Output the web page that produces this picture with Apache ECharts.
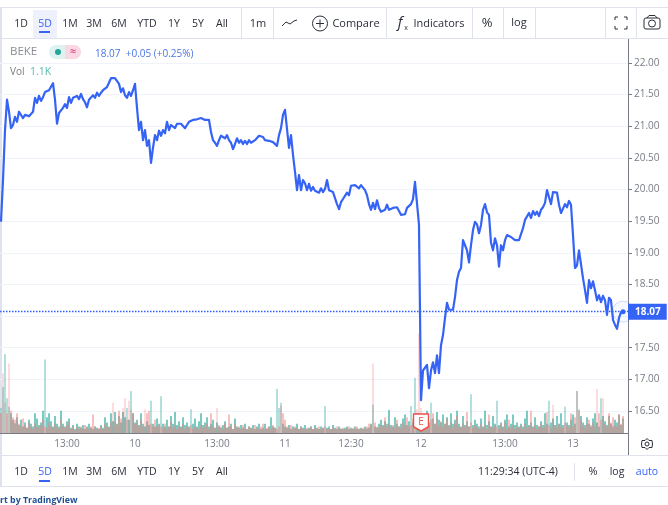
<!DOCTYPE html>
<html>
<head>
<meta charset="utf-8">
<title>BEKE</title>
<style>
html, body { margin: 0; padding: 0; background: #fff; }
#chart { width: 668px; height: 505px; }
</style>
<script src="https://cdn.jsdelivr.net/npm/echarts@6/dist/echarts.min.js"></script>
</head>
<body>
<div id="chart"></div>
<script>
// one price per 2 px column, 5D view
var prices = [
19.49,20.15,20.94,21.42,21.23,20.97,21.02,21.15,21.07,21.23,21.21,21.13,21.18,21.15,21.16,21.16,21.23,21.45,21.37,21.48,
21.40,21.46,21.54,21.51,21.57,21.54,21.68,21.42,21.04,21.21,21.23,21.29,21.35,21.29,21.46,21.37,21.45,21.43,21.48,21.43,
21.51,21.43,21.38,21.30,21.42,21.43,21.49,21.45,21.53,21.48,21.53,21.57,21.59,21.62,21.65,21.76,21.76,21.76,21.75,21.67,
21.54,21.60,21.49,21.45,21.54,21.48,21.57,21.67,21.29,20.94,21.07,20.78,20.94,20.69,20.78,20.42,20.66,20.86,20.78,20.93,
20.85,20.94,20.89,21.07,20.94,21.02,20.99,20.97,21.04,21.07,21.04,21.07,20.97,21.02,21.07,21.08,21.10,21.11,21.11,21.13,
21.13,21.11,21.10,21.11,21.10,20.91,20.78,20.74,20.69,20.78,20.85,20.88,20.81,20.86,20.78,20.74,20.64,20.72,20.81,20.74,
20.78,20.72,20.77,20.72,20.78,20.74,20.77,20.78,20.81,20.85,20.86,20.83,20.78,20.81,20.77,20.78,20.75,20.74,20.69,20.86,
20.97,21.18,21.26,21.26,20.66,20.86,20.55,20.28,19.99,20.23,19.99,20.15,20.10,19.99,20.09,19.98,20.04,19.98,19.99,19.95,
20.02,19.96,20.01,20.15,19.99,19.96,19.96,19.95,19.77,19.69,19.80,19.85,19.90,19.95,19.91,20.06,20.09,20.07,20.09,20.02,
20.07,20.06,19.99,19.91,19.77,19.68,19.79,19.69,19.83,19.71,19.65,19.63,19.68,19.76,19.68,19.65,19.71,19.68,19.72,19.66,
19.60,19.57,19.61,19.71,19.72,19.77,19.85,20.12,20.13,19.44,16.67,17.14,17.11,17.23,16.86,17.14,17.27,17.10,17.38,17.10,
17.54,17.70,17.97,18.21,18.10,18.13,18.10,18.30,18.57,18.70,18.76,19.20,19.12,19.04,18.85,19.12,19.36,19.49,19.45,19.31,
19.44,19.68,19.77,19.64,19.60,19.16,19.04,19.23,19.12,18.78,19.12,19.04,19.20,19.28,19.31,19.25,19.28,19.20,19.23,19.20,
19.23,19.39,19.52,19.55,19.63,19.55,19.66,19.60,19.65,19.58,19.68,19.72,19.79,19.99,20.01,19.77,19.96,19.95,19.95,19.76,
19.63,19.65,19.77,19.72,19.82,19.76,19.28,18.76,18.80,19.04,19.07,18.60,18.41,18.21,18.57,18.44,18.55,18.41,18.25,18.33,
18.22,18.32,18.25,18.02,18.29,18.25,17.94,17.86,17.80,17.97,18.06,18.07
];

// volume in thousands
var volUp = [
3.8,7,12,5.3,4,3,2,1.5,2.4,1.2,2,1,1.6,.8,2,1.4,1,3,2.2,1.2,
1.6,3.4,11.2,2.4,3,1.8,1,2.6,1.4,1,3.4,1.4,1,1.8,2.2,.8,1.2,.6,1.4,1,
.8,1.2,.6,1,1.4,.8,.6,1,.8,.6,1.2,.8,2.4,1.6,1,3,1.8,3.2,1.4,2.6,
1.6,3.2,2.4,3.8,2,6.4,3,1.6,2,1.2,3,1.4,1,1.8,1.2,4.9,1.4,1,2.2,1.4,
5.6,1.4,1,2,1,2.6,1.4,3.2,1.2,1.8,1,2.4,1.2,1.6,1,3.6,1.4,2.2,1,1.8,
3,1.2,1.6,2.4,1,1.4,2,.8,1.6,1,.8,1.2,1.8,.8,1,1.4,.6,2.2,1,.8,
1.2,.8,1.4,.6,1,.8,1.2,.6,1,1.4,.6,.8,1.4,.6,1,2.4,1,.8,6.7,3.8,
4.6,1.4,1,.8,1.2,.6,1,.8,1.4,.6,1,.8,1.2,.6,.8,1,.6,1.2,.8,.6,
1,.8,4.1,.8,1,.6,1.2,.8,.6,1,.7,.6,.8,1,.6,.8,.6,1,.7,.6,
.8,.6,1,.7,.8,1.4,4.3,1,.8,1.4,2,1.2,1.8,1.4,3.5,1.2,1,2.4,1.4,1,
1.4,2.2,2.8,1.2,1.8,4.1,1.6,8.4,3,3,2.4,1.8,2.6,3.4,1.6,4.6,2.2,1.4,3.2,2,
1.6,2.8,1.4,2.4,1.2,3,1.4,2,3.4,1.4,1,2.6,1.2,1.8,1,5.9,1.2,2,1.4,1,
2.2,1,3.4,1.2,1.8,1,2.6,1.4,4.9,1.2,1.6,1,2,2.8,1,1.4,2.8,1.2,1.6,1,
1.4,1,2.2,3.4,1.2,1.6,1,2.4,1.2,1,1.8,1.2,3,1.4,4.9,1.6,2.2,1.2,2.6,1.4,
3,1.2,4,1.6,1.2,2,2.8,1.4,6.4,3.6,2.6,1.6,1.2,2.4,1.4,1,2.2,3,1.6,1,
5.3,2.6,1.8,1.2,2.6,1.4,1,2,1.6,2.8,1.2,2.2
];
var volDown = [
3,9.1,4.6,3,10.6,3.4,2.4,2,3,1.4,1,2.2,1.2,.8,1.6,1,.6,1.4,1,.8,
1.2,2,1,.8,1.6,1,.8,1.4,1,.6,2,1,.8,1.2,1.6,.6,1,.4,1,.6,
1,.6,1.2,.8,.6,1,2.8,1,.6,.8,1,.6,1.4,1,.8,1.6,4.6,1.8,1.2,3.4,
2.2,3.8,5.3,2,4.9,3.6,3,1.4,1.6,1,2,1,3.6,3,3.4,1.4,1,2,1,1.2,
1,.8,1.4,.6,1,1.8,.8,1.2,.6,1,.8,1.4,.6,1,.8,1.2,.6,1,.8,.6,
1.2,.8,1,1.4,.6,3,1,.8,3.8,1.2,1,.6,1.4,.8,2.8,1,.6,1.4,.8,1,
.6,1.2,.8,.6,1,.8,.6,1.2,.8,.6,1,1.4,.6,.8,1,.6,1.2,.8,.6,1,
4.1,3,2,1,.8,1.2,.6,1,.8,.6,1,.7,.6,.8,.6,1,.6,.8,.6,1,
.6,.8,1,.6,.7,.6,.8,.6,1,.7,.6,.8,.6,.7,1,.6,.8,.6,1,.7,
.6,.8,.6,1,1.4,1.2,10.6,1.6,1,.8,1.2,1,2.4,1,1.4,.8,1.2,.8,2,1,
.8,1.6,1.2,2.4,1,1.2,2.2,3,3.6,15.2,3.8,2.6,1.8,3,1.2,2,3,1.4,2.2,1.2,
1.8,1,1.4,2.2,1,1.6,.8,1.4,2.6,1,.8,1.4,1,3.2,1,1.6,.8,1.2,1,.6,
1.4,.8,1.2,.6,2.8,1,.8,1.2,1,.6,1.4,.8,1.6,.6,2,.8,1.2,.6,1,.8,
1.2,.6,1.4,.8,1,3.4,.8,1.2,.6,1,1.4,.8,1,3.2,1.2,.8,4.3,1.2,.8,1.4,
1,.8,1.6,1.2,.8,3,1,2.4,6.4,3.4,2,1.2,.8,1.4,2,1.2,1.6,1,6.7,3,
2,5.3,1.4,1,3,1.6,2.4,1.2,1,2.8,1.4,2.6
];

var tickIndex = [33, 67, 108, 142, 175, 210, 252, 286];
var tickLabels = ['13:00', '10', '13:00', '11', '12:30', '12', '13:00', '13'];
var rangeLabels = ['1D', '5D', '1M', '3M', '6M', 'YTD', '1Y', '5Y', 'All'];
var rangeX = [21, 45, 70, 94, 119, 147, 174, 198, 222];
var separatorX = [241, 273, 386, 472, 503, 535, 605, 636];
var lastPrice = 18.07;
var symbol = 'BEKE';
var quote = '18.07  +0.05 (+0.25%)';
var earningsIndex = 210;
var paleAbove = 3.5;

var blue = '#3563f5';
var grey = '#787b86';
var ink = '#2a2e39';
var rule = '#e0e3eb';
var font = '"Open Sans", "Noto Sans", sans-serif';

function txt(s, x, y, color, size, align, weight) {
    return {
        type: 'text', x: x, y: y, silent: true,
        style: {
            text: s, fill: color, align: align || 'center', verticalAlign: 'middle',
            font: (weight || 'normal') + ' ' + size + 'px ' + font
        }
    };
}
function ln(x1, y1, x2, y2, color, w) {
    return { type: 'line', silent: true, shape: { x1: x1, y1: y1, x2: x2, y2: y2 }, style: { stroke: color || rule, lineWidth: w || 1 } };
}
function box(x, y, w, h, color, r) {
    return { type: 'rect', silent: true, shape: { x: x, y: y, width: w, height: h, r: r || 0 }, style: { fill: color } };
}
function outline(points, color, w) {
    return { type: 'polyline', silent: true, shape: { points: points }, style: { stroke: color || ink, fill: null, lineWidth: w || 1 } };
}

var deco = [];
// frame
deco.push(ln(0, 7.5, 668, 7.5), ln(0, 38.5, 668, 38.5), ln(0, 455.5, 668, 455.5), ln(0, 486.5, 668, 486.5));
deco.push(box(0, 7, 2, 480, '#dfe3ee'));
separatorX.forEach(function (x) { deco.push(ln(x + .5, 8, x + .5, 38)); });
deco.push(ln(574.5, 463, 574.5, 481));
deco.push(ln(628.5, 39, 628.5, 455, grey));

// range buttons, top and bottom
deco.push(box(33, 10, 24, 28, '#eef1fb'), box(39, 31, 11, 2, blue), box(39, 480, 11, 2, blue));
rangeLabels.forEach(function (s, i) {
    deco.push(txt(s, rangeX[i], 24, i == 1 ? blue : ink, 10.5));
    deco.push(txt(s, rangeX[i], 472, i == 1 ? blue : ink, 10.5));
});

// top toolbar
deco.push(txt('1m', 258, 24, ink, 11));
deco.push(outline([[282, 26], [286, 22], [290, 24], [294, 21], [297, 20]], ink));
deco.push({ type: 'circle', silent: true, shape: { cx: 320, cy: 23.5, r: 7.5 }, style: { stroke: ink, fill: null, lineWidth: 1 } });
deco.push(ln(316, 23.5, 324, 23.5, ink), ln(320, 19.5, 320, 27.5, ink));
deco.push(txt('Compare', 356, 24, ink, 11));
deco.push(txt('f', 400, 23, ink, 15, 'center', 'italic'), txt('x', 406, 28, ink, 7));
deco.push(txt('Indicators', 439, 24, ink, 11));
deco.push(txt('%', 487, 23, ink, 13), txt('log', 519, 23, ink, 11));
// fullscreen corners
deco.push(outline([[615, 20], [615, 17], [618, 17]], ink), outline([[624, 17], [627, 17], [627, 20]], ink));
deco.push(outline([[615, 26], [615, 29], [618, 29]], ink), outline([[624, 29], [627, 29], [627, 26]], ink));
// camera
deco.push({ type: 'rect', silent: true, shape: { x: 644, y: 18, width: 16, height: 11, r: 2 }, style: { stroke: ink, fill: null, lineWidth: 1 } });
deco.push(outline([[647, 18], [649, 15.5], [655, 15.5], [657, 18]], ink));
deco.push({ type: 'circle', silent: true, shape: { cx: 652, cy: 23.5, r: 3.5 }, style: { stroke: ink, fill: null, lineWidth: 1 } });

// legend
deco.push(txt(symbol, 10, 52, '#8a8d96', 11.5, 'left'));
deco.push(box(49, 45, 32, 14, '#def2ef', 7), box(65, 45, 16, 14, '#fbd7e4', 7), box(65, 45, 8, 14, '#fbd7e4'));
deco.push({ type: 'circle', silent: true, shape: { cx: 58, cy: 52, r: 3 }, style: { fill: '#26a69a' } });
deco.push(txt('\u2248', 73, 51.5, '#d81b60', 11));
deco.push(txt(quote, 95, 54, '#4a74e8', 10, 'left'));
deco.push(txt('Vol', 10, 72, grey, 10, 'left'), txt('1.1K', 30, 72, '#53b9ab', 10.5, 'left'));

// bottom bar
deco.push(txt('11:29:34 (UTC-4)', 518, 472, ink, 10.5));
deco.push(txt('%', 593, 472, ink, 11), txt('log', 617, 472, ink, 10.5), txt('auto', 647, 472, blue, 10.5));
deco.push(txt('rt by TradingView', 0, 500, '#1f4f91', 8.8, 'left', 'bold'));
// settings gear
deco.push({
    type: 'polygon', silent: true,
    shape: { points: [[647, 438.5], [649, 440.5], [652, 440.5], [652.5, 444], [652, 447.5], [649, 447.5], [647, 449.5], [645, 447.5], [642, 447.5], [641.5, 444], [642, 440.5], [645, 440.5]] },
    style: { stroke: ink, fill: '#fff', lineWidth: 1 }
});
deco.push({ type: 'circle', silent: true, shape: { cx: 647, cy: 444, r: 2 }, style: { fill: '#fff', stroke: ink, lineWidth: 1 } });

// two spare slots keep the last bar just left of the price scale
var barIndex = prices.concat([0, 0]).map(function (p, i) { return i; });
var lastIndex = prices.length - 1;

function volColor(solid, pale) {
    return function (p) { return p.value > paleAbove ? pale : solid; };
}

var dottedLine = { color: '#2f5bff', type: [1.5, 1.5], width: 1.3, opacity: 1 };

var chart = echarts.init(document.getElementById('chart'), null, { renderer: 'canvas' });
chart.setOption({
    animation: false,
    backgroundColor: '#fff',
    textStyle: { fontFamily: font },
    graphic: deco,
    grid: [
        { left: 0, width: 628, top: 63, height: 348 },
        { left: 0, width: 628, top: 39, height: 394 }
    ],
    xAxis: [
        { type: 'category', gridIndex: 0, data: barIndex, show: false },
        {
            type: 'category', gridIndex: 1, data: barIndex,
            axisLine: { lineStyle: { color: grey, width: 1 } },
            axisTick: { show: false },
            axisLabel: {
                color: grey, fontSize: 10, margin: 6, hideOverlap: false,
                interval: function (i) { return tickIndex.indexOf(i) >= 0; },
                formatter: function (v) { return tickLabels[tickIndex.indexOf(Number(v))]; }
            }
        },
        // red bars sit on their own axis so they can be narrower than the green ones
        { type: 'category', gridIndex: 1, data: barIndex, show: false }
    ],
    yAxis: [
        {
            type: 'value', gridIndex: 0, position: 'right', min: 16.5, max: 22, interval: .5,
            axisLine: { show: false },
            axisTick: { show: true, length: 4, lineStyle: { color: grey } },
            axisLabel: { color: grey, fontSize: 10, margin: 6, formatter: function (v) { return v.toFixed(2); } },
            splitLine: { lineStyle: { color: '#f0f3fa', width: 1 } }
        },
        { type: 'value', gridIndex: 1, min: 0, max: 60, show: false, splitLine: { show: false } }
    ],
    series: [
        {
            type: 'bar', xAxisIndex: 1, yAxisIndex: 1, data: volUp, barWidth: 2,
            itemStyle: { color: volColor('rgba(38,166,154,.6)', 'rgba(38,166,154,.35)') }, silent: true, z: 1
        },
        {
            type: 'bar', xAxisIndex: 2, yAxisIndex: 1, data: volDown, barWidth: 1,
            itemStyle: { color: volColor('rgba(240,125,120,.95)', 'rgba(239,83,80,.4)') }, silent: true, z: 2,
            markPoint: {
                silent: true,
                symbol: 'path://M0 0H16V12L8 16L0 12Z',
                symbolSize: [15, 17],
                itemStyle: { color: '#fff', borderColor: '#f0504a', borderWidth: 1.5 },
                label: { show: true, formatter: 'E', color: '#f0504a', fontSize: 10, position: 'inside' },
                data: [{ coord: [earningsIndex, 1.6] }]
            }
        },
        {
            type: 'line', xAxisIndex: 0, yAxisIndex: 0, data: prices, symbol: 'none', z: 5,
            lineStyle: { color: blue, width: 2.2, join: 'round' },
            markLine: {
                silent: true, symbol: 'none',
                lineStyle: dottedLine,
                label: {
                    position: 'end', distance: 0, formatter: lastPrice.toFixed(2),
                    color: '#fff', backgroundColor: blue, fontSize: 10, fontWeight: 'bold', padding: [3, 6, 3, 7]
                },
                data: [{ yAxis: lastPrice, lineStyle: dottedLine }]
            },
            markPoint: {
                silent: true, symbol: 'circle', label: { show: false },
                data: [
                    { coord: [lastIndex, lastPrice], symbolSize: 21, itemStyle: { color: 'rgba(53,99,245,.04)', borderColor: 'rgba(53,99,245,.22)', borderWidth: 1 } },
                    { coord: [lastIndex, lastPrice], symbolSize: 5, itemStyle: { color: blue } }
                ]
            }
        }
    ]
});
</script>
</body>
</html>
